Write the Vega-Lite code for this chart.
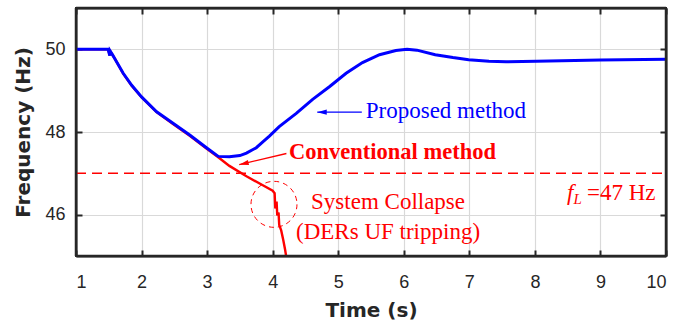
{
  "$schema": "https://vega.github.io/schema/vega-lite/v6.json",
  "width": 590,
  "height": 248,
  "autosize": {"type": "none"},
  "padding": {"left": 76, "top": 8, "right": 28, "bottom": 72},
  "background": "white",
  "config": {
    "view": {"stroke": "#262626", "strokeWidth": 2},
    "axis": {
      "domainColor": "#262626", "domainWidth": 2,
      "tickColor": "#262626", "tickWidth": 2, "tickSize": -6,
      "labelFont": "Liberation Sans", "labelFontSize": 18, "labelColor": "#262626",
      "titleFont": "DejaVu Sans", "titleFontSize": 20, "titleFontWeight": "bold", "titleColor": "#262626",
      "gridColor": "#d9d9d9", "gridWidth": 1.2
    }
  },
  "datasets": {
    "curves": [
      {"t": 1.0, "f": 50.0, "s": "Proposed"},
      {"t": 1.49, "f": 50.0, "s": "Proposed"},
      {"t": 1.515, "f": 49.85, "s": "Proposed"},
      {"t": 1.52, "f": 49.96, "s": "Proposed"},
      {"t": 1.56, "f": 49.86, "s": "Proposed"},
      {"t": 1.59, "f": 49.78, "s": "Proposed"},
      {"t": 1.72, "f": 49.42, "s": "Proposed"},
      {"t": 1.85, "f": 49.13, "s": "Proposed"},
      {"t": 2.0, "f": 48.85, "s": "Proposed"},
      {"t": 2.23, "f": 48.49, "s": "Proposed"},
      {"t": 2.48, "f": 48.21, "s": "Proposed"},
      {"t": 2.74, "f": 47.92, "s": "Proposed"},
      {"t": 2.99, "f": 47.62, "s": "Proposed"},
      {"t": 3.17, "f": 47.41, "s": "Proposed"},
      {"t": 3.34, "f": 47.4, "s": "Proposed"},
      {"t": 3.5, "f": 47.43, "s": "Proposed"},
      {"t": 3.6, "f": 47.49, "s": "Proposed"},
      {"t": 3.75, "f": 47.62, "s": "Proposed"},
      {"t": 3.85, "f": 47.76, "s": "Proposed"},
      {"t": 3.95, "f": 47.9, "s": "Proposed"},
      {"t": 4.1, "f": 48.13, "s": "Proposed"},
      {"t": 4.36, "f": 48.45, "s": "Proposed"},
      {"t": 4.61, "f": 48.79, "s": "Proposed"},
      {"t": 4.87, "f": 49.1, "s": "Proposed"},
      {"t": 5.12, "f": 49.42, "s": "Proposed"},
      {"t": 5.37, "f": 49.68, "s": "Proposed"},
      {"t": 5.63, "f": 49.87, "s": "Proposed"},
      {"t": 5.88, "f": 49.97, "s": "Proposed"},
      {"t": 6.05, "f": 50.0, "s": "Proposed"},
      {"t": 6.2, "f": 49.98, "s": "Proposed"},
      {"t": 6.48, "f": 49.87, "s": "Proposed"},
      {"t": 6.75, "f": 49.8, "s": "Proposed"},
      {"t": 6.99, "f": 49.75, "s": "Proposed"},
      {"t": 7.3, "f": 49.71, "s": "Proposed"},
      {"t": 7.56, "f": 49.7, "s": "Proposed"},
      {"t": 8.02, "f": 49.71, "s": "Proposed"},
      {"t": 9.0, "f": 49.74, "s": "Proposed"},
      {"t": 10.0, "f": 49.76, "s": "Proposed"},
      {"t": 1.0, "f": 50.0, "s": "Conventional"},
      {"t": 1.49, "f": 50.0, "s": "Conventional"},
      {"t": 1.515, "f": 49.85, "s": "Conventional"},
      {"t": 1.52, "f": 49.96, "s": "Conventional"},
      {"t": 1.56, "f": 49.86, "s": "Conventional"},
      {"t": 1.59, "f": 49.78, "s": "Conventional"},
      {"t": 1.72, "f": 49.41, "s": "Conventional"},
      {"t": 1.85, "f": 49.12, "s": "Conventional"},
      {"t": 2.0, "f": 48.84, "s": "Conventional"},
      {"t": 2.23, "f": 48.48, "s": "Conventional"},
      {"t": 2.48, "f": 48.19, "s": "Conventional"},
      {"t": 2.74, "f": 47.9, "s": "Conventional"},
      {"t": 2.99, "f": 47.6, "s": "Conventional"},
      {"t": 3.17, "f": 47.39, "s": "Conventional"},
      {"t": 3.34, "f": 47.18, "s": "Conventional"},
      {"t": 3.6, "f": 46.93, "s": "Conventional"},
      {"t": 3.85, "f": 46.71, "s": "Conventional"},
      {"t": 4.0, "f": 46.58, "s": "Conventional"},
      {"t": 4.03, "f": 46.52, "s": "Conventional"},
      {"t": 4.04, "f": 46.15, "s": "Conventional"},
      {"t": 4.06, "f": 46.32, "s": "Conventional"},
      {"t": 4.07, "f": 45.98, "s": "Conventional"},
      {"t": 4.09, "f": 46.05, "s": "Conventional"},
      {"t": 4.1, "f": 45.75, "s": "Conventional"},
      {"t": 4.13, "f": 45.62, "s": "Conventional"},
      {"t": 4.16, "f": 45.4, "s": "Conventional"},
      {"t": 4.19, "f": 45.15, "s": "Conventional"},
      {"t": 4.22, "f": 44.85, "s": "Conventional"}
    ],
    "frame": [
      {"xa": 1, "xb": 10, "ya": 51, "yb": 51},
      {"xa": 10, "xb": 10, "ya": 45, "yb": 51},
      {"xa": 1, "xb": 1, "ya": 45, "yb": 51},
      {"xa": 1, "xb": 10, "ya": 45, "yb": 45}
    ],
    "labels": [
      {"x": 5.42, "y": 48.33, "text": "Proposed method", "kind": "proposed"},
      {"x": 4.25, "y": 47.35, "text": "Conventional method", "kind": "conventional"},
      {"x": 5.76, "y": 46.14, "text": "System Collapse", "kind": "collapse"},
      {"x": 5.76, "y": 45.41, "text": "(DERs UF tripping)", "kind": "collapse"}
    ],
    "arrows": [
      {"x1": 5.36, "y1": 48.48, "x2": 4.68, "y2": 48.48, "kind": "proposed"},
      {"x1": 4.21, "y1": 47.48, "x2": 3.49, "y2": 47.21, "kind": "conventional"}
    ]
  },
  "resolve": {"axis": {"x": "independent", "y": "independent"}},
  "layer": [
    {
      "data": {"name": "curves"},
      "transform": [{"filter": "datum.s === 'Conventional'"}],
      "mark": {"type": "line", "color": "#ff0000", "strokeWidth": 2.4, "clip": true},
      "encoding": {
        "x": {"field": "t", "type": "quantitative", "scale": {"domain": [1, 10], "nice": false, "zero": false},
          "axis": {"orient": "bottom", "values": [1, 2, 3, 4, 5, 6, 7, 8, 9, 10], "format": "d", "title": "Time (s)", "grid": true, "labelPadding": 23, "titlePadding": 9}},
        "y": {"field": "f", "type": "quantitative", "scale": {"domain": [45, 51], "nice": false, "zero": false},
          "axis": {"orient": "left", "values": [46, 48, 50], "format": "d", "title": "Frequency (Hz)", "grid": true, "labelPadding": 17, "titlePadding": 11}}
      }
    },
    {
      "data": {"name": "curves"},
      "transform": [{"filter": "datum.s === 'Proposed'"}],
      "mark": {"type": "line", "color": "#0000ff", "strokeWidth": 3, "clip": true},
      "encoding": {
        "x": {"field": "t", "type": "quantitative", "axis": null},
        "y": {"field": "f", "type": "quantitative", "axis": null}
      }
    },
    {
      "data": {"values": [{"t0": 1, "t1": 10, "f": 47}]},
      "mark": {"type": "rule", "color": "#ff0000", "strokeWidth": 1.5, "strokeDash": [10, 6]},
      "encoding": {
        "x": {"field": "t0", "type": "quantitative",
          "axis": {"orient": "top", "values": [1, 2, 3, 4, 5, 6, 7, 8, 9, 10], "labels": false, "title": null, "grid": false}},
        "x2": {"field": "t1"},
        "y": {"field": "f", "type": "quantitative",
          "axis": {"orient": "right", "values": [46, 48, 50], "labels": false, "title": null, "grid": false}}
      }
    },
    {
      "data": {"name": "arrows"},
      "mark": {"type": "rule", "strokeWidth": 1.3},
      "encoding": {
        "x": {"field": "x1", "type": "quantitative", "axis": null},
        "y": {"field": "y1", "type": "quantitative", "axis": null},
        "x2": {"field": "x2"},
        "y2": {"field": "y2"},
        "color": {"field": "kind", "type": "nominal", "scale": {"domain": ["proposed", "conventional"], "range": ["#0000ff", "#ff0000"]}, "legend": null}
      }
    },
    {
      "data": {"name": "arrows"},
      "transform": [{"filter": "datum.kind === 'proposed'"}],
      "mark": {"type": "point", "shape": "M0,0L2,-0.55L2,0.55Z", "size": 90, "filled": true, "opacity": 1, "color": "#0000ff", "strokeWidth": 0},
      "encoding": {
        "x": {"field": "x2", "type": "quantitative", "axis": null},
        "y": {"field": "y2", "type": "quantitative", "axis": null}
      }
    },
    {
      "data": {"name": "arrows"},
      "transform": [{"filter": "datum.kind === 'conventional'"}],
      "mark": {"type": "point", "shape": "M0,0L2,-0.55L2,0.55Z", "size": 90, "filled": true, "opacity": 1, "color": "#ff0000", "strokeWidth": 0, "angle": 346.7},
      "encoding": {
        "x": {"field": "x2", "type": "quantitative", "axis": null},
        "y": {"field": "y2", "type": "quantitative", "axis": null}
      }
    },
    {
      "data": {"values": [{"x": 4.02, "y": 46.25}]},
      "mark": {"type": "point", "shape": "circle", "size": 2116, "filled": false, "color": "#ff0000", "strokeWidth": 1, "strokeDash": [5, 4], "opacity": 1},
      "encoding": {
        "x": {"field": "x", "type": "quantitative", "axis": null},
        "y": {"field": "y", "type": "quantitative", "axis": null}
      }
    },
    {
      "data": {"name": "labels"},
      "transform": [{"filter": "datum.kind === 'proposed'"}],
      "mark": {"type": "text", "font": "Liberation Serif", "fontSize": 23, "color": "#0000ff", "align": "left", "baseline": "alphabetic"},
      "encoding": {
        "x": {"field": "x", "type": "quantitative", "axis": null},
        "y": {"field": "y", "type": "quantitative", "axis": null},
        "text": {"field": "text"}
      }
    },
    {
      "data": {"name": "labels"},
      "transform": [{"filter": "datum.kind === 'conventional'"}],
      "mark": {"type": "text", "font": "Liberation Serif", "fontSize": 22.5, "fontWeight": "bold", "color": "#ff0000", "align": "left", "baseline": "alphabetic"},
      "encoding": {
        "x": {"field": "x", "type": "quantitative", "axis": null},
        "y": {"field": "y", "type": "quantitative", "axis": null},
        "text": {"field": "text"}
      }
    },
    {
      "data": {"name": "labels"},
      "transform": [{"filter": "datum.kind === 'collapse'"}],
      "mark": {"type": "text", "font": "Liberation Serif", "fontSize": 23, "color": "#ff0000", "align": "center", "baseline": "alphabetic"},
      "encoding": {
        "x": {"field": "x", "type": "quantitative", "axis": null},
        "y": {"field": "y", "type": "quantitative", "axis": null},
        "text": {"field": "text"}
      }
    },
    {
      "data": {"values": [{"x": 8.49, "y": 46.36, "text": "f"}]},
      "mark": {"type": "text", "font": "Liberation Serif", "fontSize": 23, "fontStyle": "italic", "color": "#ff0000", "align": "left", "baseline": "alphabetic"},
      "encoding": {
        "x": {"field": "x", "type": "quantitative", "axis": null},
        "y": {"field": "y", "type": "quantitative", "axis": null},
        "text": {"field": "text"}
      }
    },
    {
      "data": {"values": [{"x": 8.59, "y": 46.27, "text": "L"}]},
      "mark": {"type": "text", "font": "Liberation Serif", "fontSize": 15, "fontStyle": "italic", "color": "#ff0000", "align": "left", "baseline": "alphabetic"},
      "encoding": {
        "x": {"field": "x", "type": "quantitative", "axis": null},
        "y": {"field": "y", "type": "quantitative", "axis": null},
        "text": {"field": "text"}
      }
    },
    {
      "data": {"values": [{"x": 9.84, "y": 46.36, "text": "=47 Hz"}]},
      "mark": {"type": "text", "font": "Liberation Serif", "fontSize": 23, "color": "#ff0000", "align": "right", "baseline": "alphabetic"},
      "encoding": {
        "x": {"field": "x", "type": "quantitative", "axis": null},
        "y": {"field": "y", "type": "quantitative", "axis": null},
        "text": {"field": "text"}
      }
    },
    {
      "data": {"name": "frame"},
      "mark": {"type": "rule", "color": "#262626", "strokeWidth": 2.5},
      "encoding": {
        "x": {"field": "xa", "type": "quantitative", "axis": null},
        "x2": {"field": "xb"},
        "y": {"field": "ya", "type": "quantitative", "axis": null},
        "y2": {"field": "yb"}
      }
    }
  ]
}
